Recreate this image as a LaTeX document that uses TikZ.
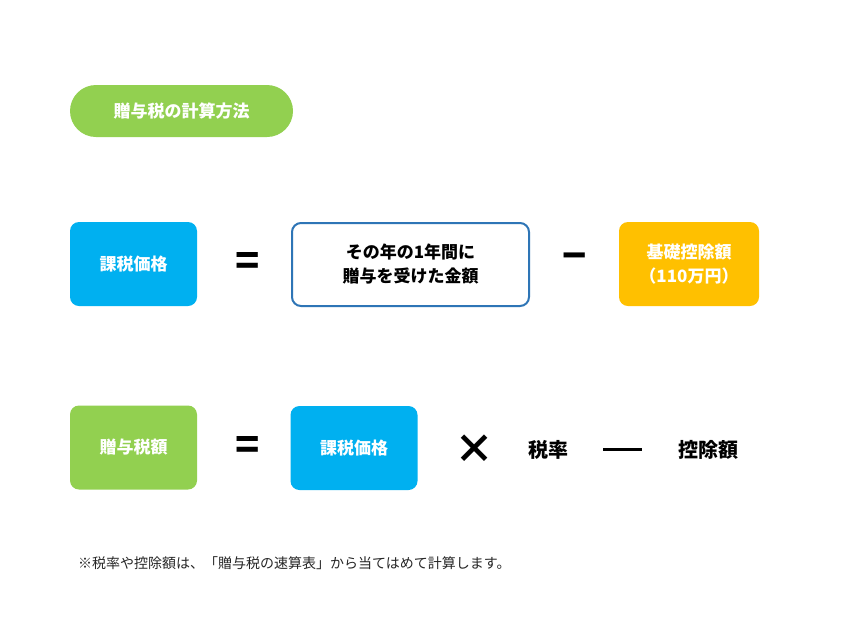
\documentclass[tikz,border=0pt]{standalone}
\usepackage{fontspec}
\setmainfont{Noto Sans CJK JP}
\newfontfamily\jpb{Noto Sans CJK JP Bold}
\begin{document}
\begin{tikzpicture}[x=1pt,y=-1pt,
  box/.style={rounded corners=9pt,minimum width=127pt,minimum height=84pt,inner sep=0pt,align=center,font=\fontsize{17}{24}\selectfont\bfseries,text=white},
  op/.style={font=\fontsize{40}{40}\selectfont\bfseries,inner sep=0pt},
  word/.style={font=\fontsize{20}{24}\selectfont\bfseries,inner sep=0pt}]
\definecolor{grn}{HTML}{92D050}
\definecolor{blu}{HTML}{00B0F0}
\definecolor{org}{HTML}{FFC000}
\definecolor{bdr}{HTML}{2E75B6}
\useasboundingbox[fill=white] (0,0) rectangle (850,638);
\node[box,fill=grn,rounded corners=26pt,minimum width=223pt,minimum height=52pt] (title) at (181.5,111) {贈与税の計算方法};
\node[box,fill=blu] (a1) at (133.5,264) {課税価格};
\node[op] (eq1) at (248,264) {=};
\node[box,draw=bdr,line width=2pt,text=black,minimum width=237pt,minimum height=83pt] (b1) at (410.5,264.5) {その年の1年間に\\贈与を受けた金額};
\node[op] (m1) at (575,262) {−};
\node[box,fill=org,minimum width=140pt] (c1) at (689,264) {基礎控除額\\（110万円）};
\node[box,fill=grn] (a2) at (133.5,447.5) {贈与税額};
\node[op] (eq2) at (248,448) {=};
\node[box,fill=blu] (b2) at (354,448) {課税価格};
\node[op] (x2) at (474,449) {×};
\node[word] (r2) at (548,450) {税率};
\draw[line width=3pt] (603,449) -- (642,449) coordinate (m2);
\node[word] (d2) at (708,450) {控除額};
\node[anchor=west,inner sep=0pt,font=\fontsize{14}{16}\selectfont,text=black!85] (note) at (78,563) {※税率や控除額は、「贈与税の速算表」から当てはめて計算します。};
\end{tikzpicture}
\end{document}
